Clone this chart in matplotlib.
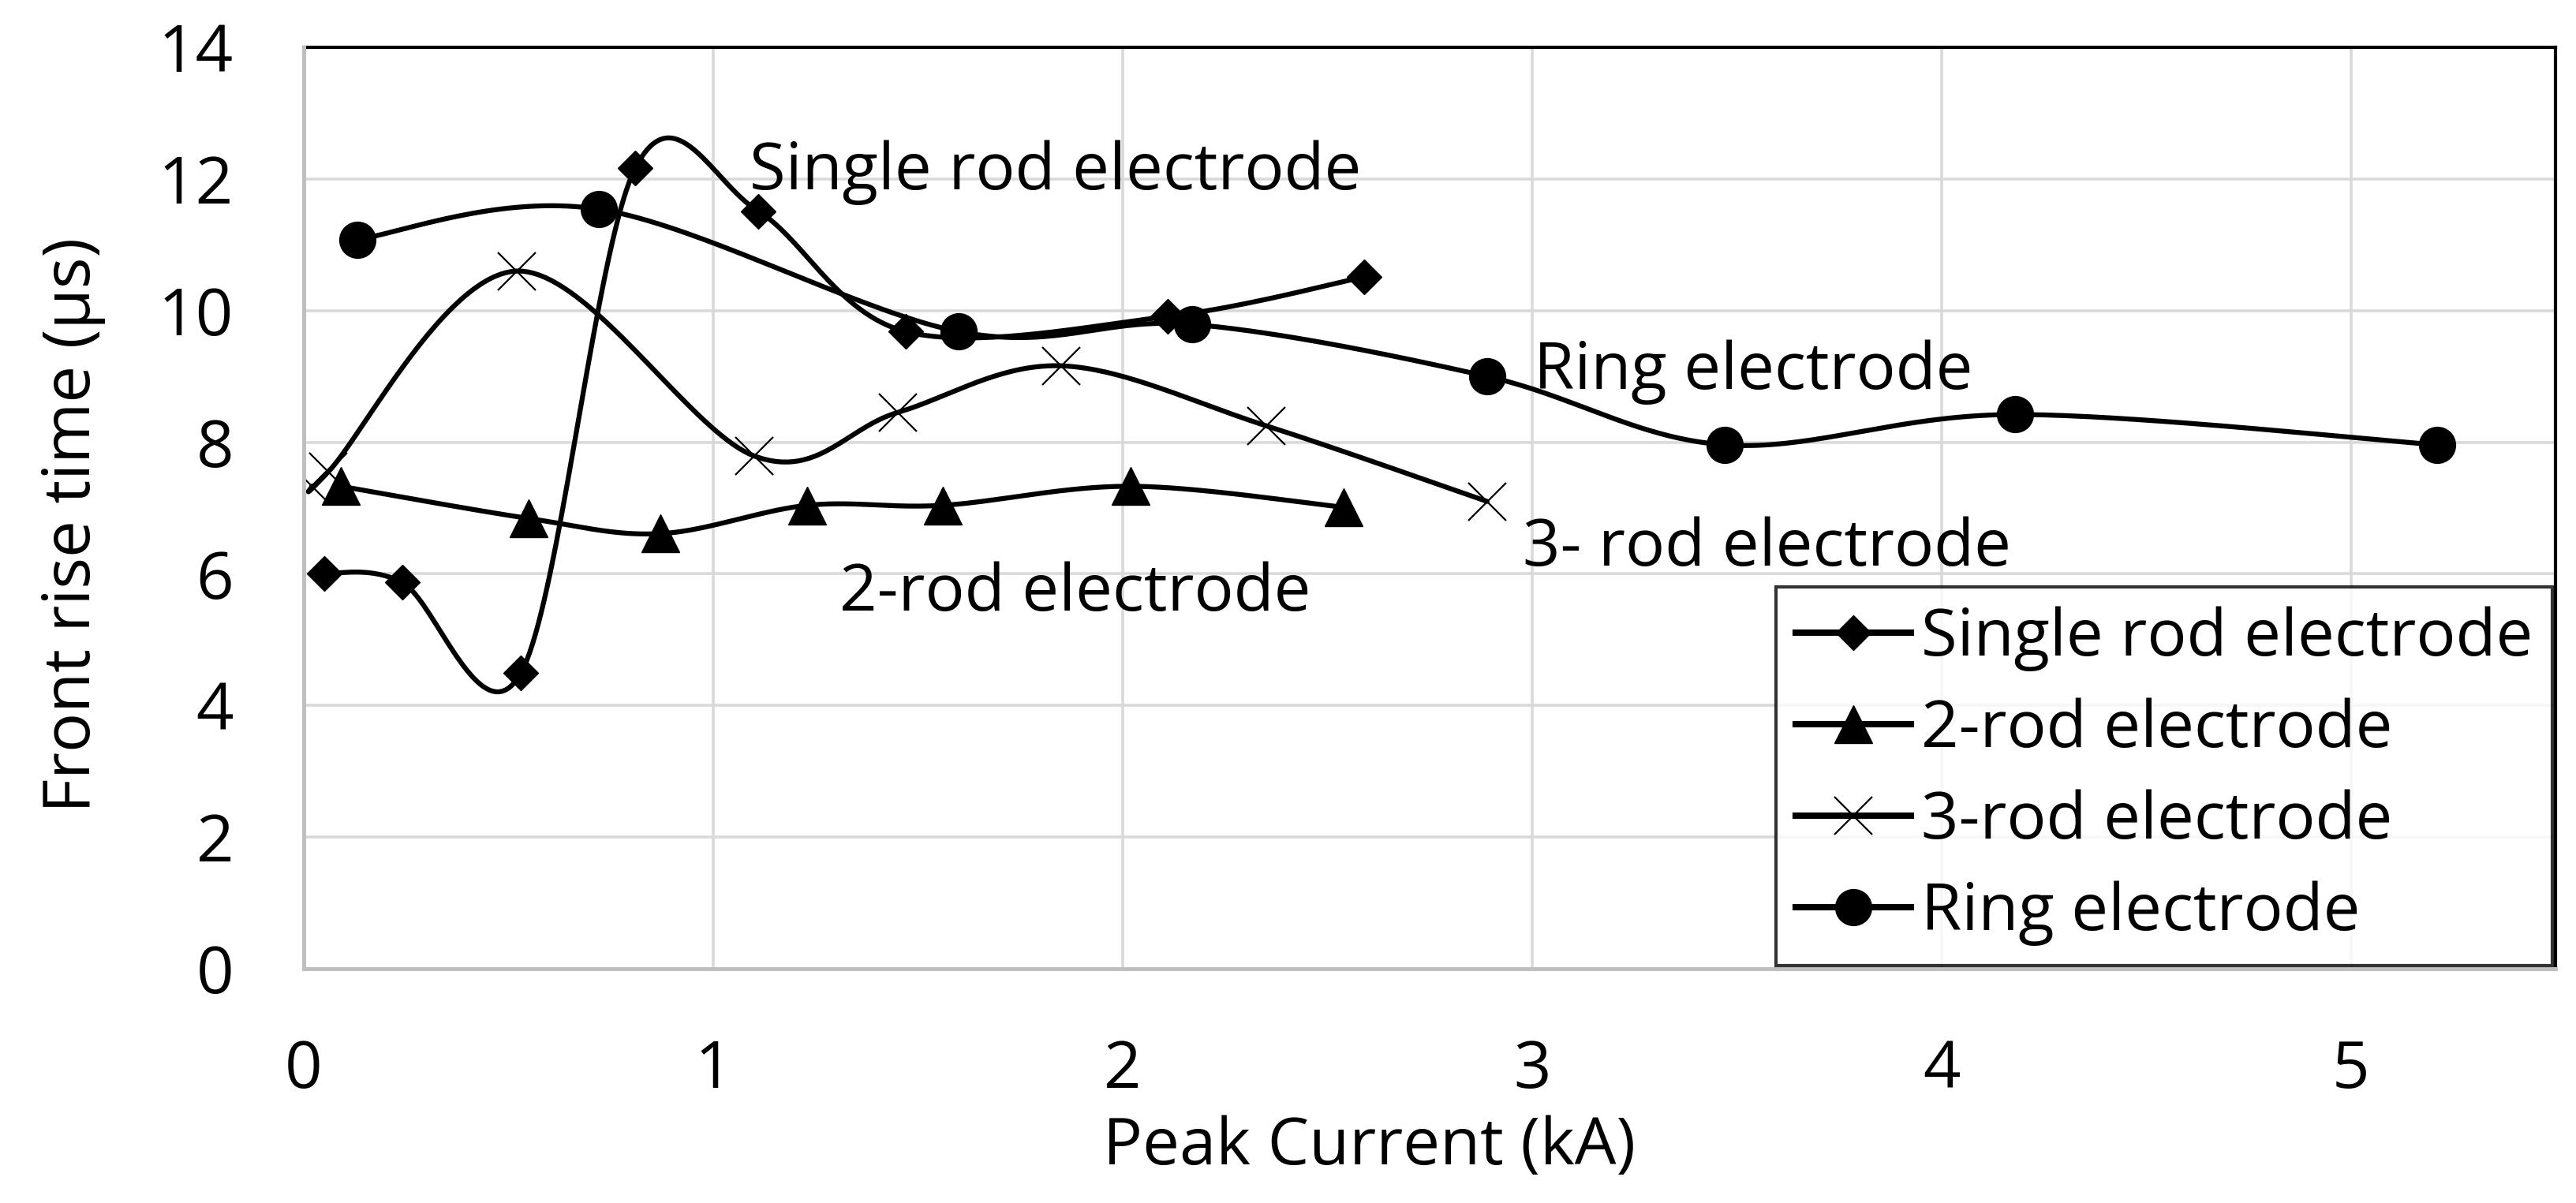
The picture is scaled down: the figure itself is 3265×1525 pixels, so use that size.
import numpy as np
import matplotlib
matplotlib.use("Agg")
import matplotlib.pyplot as plt

plt.rcParams['font.family'] = ['Open Sans', 'DejaVu Sans']

# data (Peak current kA, front rise time us)
single_x = [0.05, 0.24, 0.53, 0.81, 1.11, 1.47, 2.11, 2.59]
single_y = [6.01, 5.87, 4.49, 12.17, 11.51, 9.68, 9.91, 10.51]

two_x = [0.09, 0.55, 0.87, 1.23, 1.56, 2.02, 2.54]
two_y = [7.33, 6.84, 6.61, 7.04, 7.04, 7.33, 7.01]

three_x = [0.02, 0.06, 0.52, 1.10, 1.45, 1.85, 2.35, 2.89]
three_y = [7.33, 7.55, 10.60, 7.79, 8.45, 9.16, 8.25, 7.10]

ring_x = [0.13, 0.72, 1.60, 2.17, 2.89, 3.47, 4.18, 5.21]
ring_y = [11.08, 11.54, 9.68, 9.79, 9.00, 7.96, 8.42, 7.96]

labels = ["Single rod electrode", "2-rod electrode", "3-rod electrode", "Ring electrode"]
x_ticks = [0, 1, 2, 3, 4, 5]
y_ticks = [0, 2, 4, 6, 8, 10, 12, 14]


def smooth(xs, ys, n=40):
    # Excel style smoothed line: Catmull-Rom through the points, as cubic Bezier pieces
    p = np.column_stack([xs, ys]).astype(float)
    ext = np.vstack([p[0], p, p[-1]])
    out = []
    t = np.linspace(0, 1, n)[:, None]
    for i in range(len(p) - 1):
        p0, p1, p2, p3 = ext[i], ext[i + 1], ext[i + 2], ext[i + 3]
        c1 = p1 + (p2 - p0) / 6.0
        c2 = p2 - (p3 - p1) / 6.0
        seg = ((1 - t) ** 3) * p1 + 3 * ((1 - t) ** 2) * t * c1 + 3 * (1 - t) * t ** 2 * c2 + t ** 3 * p2
        out.append(seg if i == 0 else seg[1:])
    out = np.vstack(out)
    return out[:, 0], out[:, 1]


fig = plt.figure(figsize=(32.66, 15.25), dpi=100)
ax = fig.add_axes([0.1179, 0.1948, 0.8739, 0.7659])

fs = 60
lw = 4.5
series = [
    (single_x, single_y, dict(marker='D', ms=22)),
    (two_x, two_y, dict(marker='^', ms=34)),
    (three_x, three_y, dict(marker='x', ms=34, mew=1.6)),
    (ring_x, ring_y, dict(marker='o', ms=33)),
]

handles = []
for (xs, ys, mk), lab in zip(series, labels):
    sx, sy = smooth(xs, ys)
    ax.plot(sx, sy, color='black', lw=lw, zorder=3, solid_capstyle='round')
    ax.plot(xs, ys, ls='none', color='black', zorder=4, **mk)
    h, = ax.plot([], [], color='black', lw=lw * 1.3, **mk)
    handles.append(h)

ax.set_xlim(0, 5.5)
ax.set_ylim(0, 14)
ax.set_xticks(x_ticks)
ax.set_yticks(y_ticks)
ax.tick_params(length=0, labelsize=fs, pad=64)
ax.grid(True, color='#D9D9D9', lw=2.6, zorder=0)
ax.set_axisbelow(True)

for s in ['left', 'bottom']:
    ax.spines[s].set_color('#BFBFBF')
    ax.spines[s].set_linewidth(3.6)
    ax.spines[s].set_zorder(5)
for s in ['top', 'right']:
    ax.spines[s].set_color('black')
    ax.spines[s].set_linewidth(3.0)

# inline labels
ax.text(1.088, 11.84, "Single rod electrode", fontsize=fs, ha='left', va='baseline')
ax.text(3.004, 8.81, "Ring electrode", fontsize=fs, ha='left', va='baseline')
ax.text(2.977, 6.12, "3- rod electrode", fontsize=fs, ha='left', va='baseline')
ax.text(1.309, 5.44, "2-rod electrode", fontsize=fs, ha='left', va='baseline')

leg = ax.legend(handles, labels, loc='lower right', bbox_to_anchor=(1.0, 0.0),
                fontsize=fs, frameon=True, fancybox=False, borderaxespad=0.05,
                handlelength=1.75, handletextpad=0.15, labelspacing=0.4,
                borderpad=0.3)
leg.get_frame().set_edgecolor('black')
leg.get_frame().set_linewidth(3.0)
leg.set_zorder(10)

fig.text(1736 / 3266, 1 - 1455 / 1525, "Peak Current (kA)", fontsize=fs,
         ha='center', va='center')
fig.text(93 / 3266, 1 - 665 / 1525, "Front rise time (μs)", fontsize=fs,
         ha='center', va='center', rotation=90)

fig.savefig("out.png", dpi=100, facecolor='white')
